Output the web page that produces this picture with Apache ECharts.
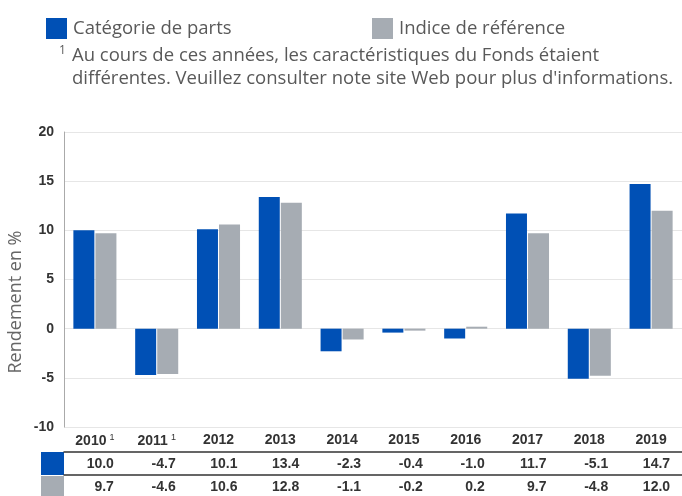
<!DOCTYPE html>
<html><head><meta charset="utf-8">
<script src="https://cdn.jsdelivr.net/npm/echarts@6/dist/echarts.min.js"></script>
<style>html,body{margin:0;padding:0;background:#fff}#c{width:682px;height:496px}</style>
</head><body><div id="c"></div>
<script>
const categories = ['2010','2011','2012','2013','2014','2015','2016','2017','2018','2019'];
const footnoted = ['2010','2011'];
const fundValues = [10.0,-4.7,10.1,13.4,-2.3,-0.4,-1.0,11.7,-5.1,14.7];
const indexValues = [9.7,-4.6,10.6,12.8,-1.1,-0.2,0.2,9.7,-4.8,12.0];
const seriesNames = ['Catégorie de parts','Indice de référence'];
const yTicks = [-10,-5,0,5,10,15,20];
const yAxisTitle = 'Rendement en %';
const footnoteMark = '1';
const footnoteText = 'Au cours de ces années, les caractéristiques du Fonds étaient\ndifférentes. Veuillez consulter note site Web pour plus d\'informations.';
const BLUE = '#0050B5', GRAY = '#A6ACB3';

const chart = echarts.init(document.getElementById('c'));
const numFont = 'Liberation Sans, Arial, sans-serif';
const txtFont = 'Open Sans';
function rowAxis(vals, offset){
  return {
    type:'category', data: categories, position:'bottom', offset: offset,
    axisLine:{show:true, lineStyle:{color:'#333', width:1.5}},
    axisTick:{show:false}, splitLine:{show:false},
    axisLabel:{margin:5, interval:0,
      formatter:(v,i)=>'{a|'+vals[i].toFixed(1)+'}',
      rich:{a:{width:38, align:'right', fontFamily:numFont, fontWeight:'bold', fontSize:14, color:'#333'}}}
  };
}
const legendText = {fontFamily:txtFont, fontSize:18.5, color:'#595959', padding:[0,0,0,1]};
chart.setOption({
  animation:false,
  color:[BLUE, GRAY],
  legend:[
    {data:[seriesNames[0]], left:41, top:13, itemWidth:21, itemHeight:21, icon:'rect', itemGap:0, textStyle:legendText},
    {data:[seriesNames[1]], left:367, top:13, itemWidth:21, itemHeight:21, icon:'rect', textStyle:legendText}
  ],
  title:[
    {left:54, top:40, text:footnoteMark, textStyle:{fontFamily:txtFont, fontSize:12, fontWeight:'normal', color:'#595959'}},
    {left:67, top:39, text:footnoteText,
     textStyle:{fontFamily:txtFont, fontSize:18.5, fontWeight:'normal', color:'#595959', lineHeight:23}}
  ],
  grid:{left:64, right:0, top:132, bottom:69},
  xAxis:[
    {type:'category', data:categories, axisLine:{show:false}, axisTick:{show:false},
     axisLabel:{margin:6, interval:0, formatter:v=> footnoted.includes(v)? '{a|'+v+'}{s|'+footnoteMark+'}' : '{a|'+v+'}',
       rich:{a:{fontFamily:numFont, fontWeight:'bold', fontSize:14, color:'#333'},
             s:{fontFamily:numFont, fontSize:9, color:'#333', verticalAlign:'top', padding:[0,0,8,3]}}}},
    rowAxis(fundValues, 25),
    rowAxis(indexValues, 48)
  ],
  yAxis:{type:'value', min:-10, max:20, interval:5,
    axisLine:{show:true, lineStyle:{color:'#aaa'}}, axisTick:{show:false},
    axisLabel:{margin:10, fontFamily:numFont, fontWeight:'bold', fontSize:14, color:'#333',
      formatter:v=> yTicks.includes(v)? String(v):''},
    splitLine:{lineStyle:{color:'#e6e6e6'}}},
  graphic:[
    {type:'rect', shape:{x:41, y:452, width:23, height:23}, style:{fill:BLUE}},
    {type:'rect', shape:{x:41, y:476, width:23, height:20}, style:{fill:GRAY}},
    {type:'text', x:16, y:302, rotation:Math.PI/2,
     style:{text:yAxisTitle, fontFamily:txtFont, fontSize:18, fill:'#666', align:'center', verticalAlign:'middle'}}
  ],
  series:[
    {name:seriesNames[0], type:'bar', data:fundValues, barWidth:21, barGap:'5%', itemStyle:{color:BLUE}},
    {name:seriesNames[1], type:'bar', data:indexValues, barWidth:21, itemStyle:{color:GRAY}}
  ]
});
</script></body></html>
